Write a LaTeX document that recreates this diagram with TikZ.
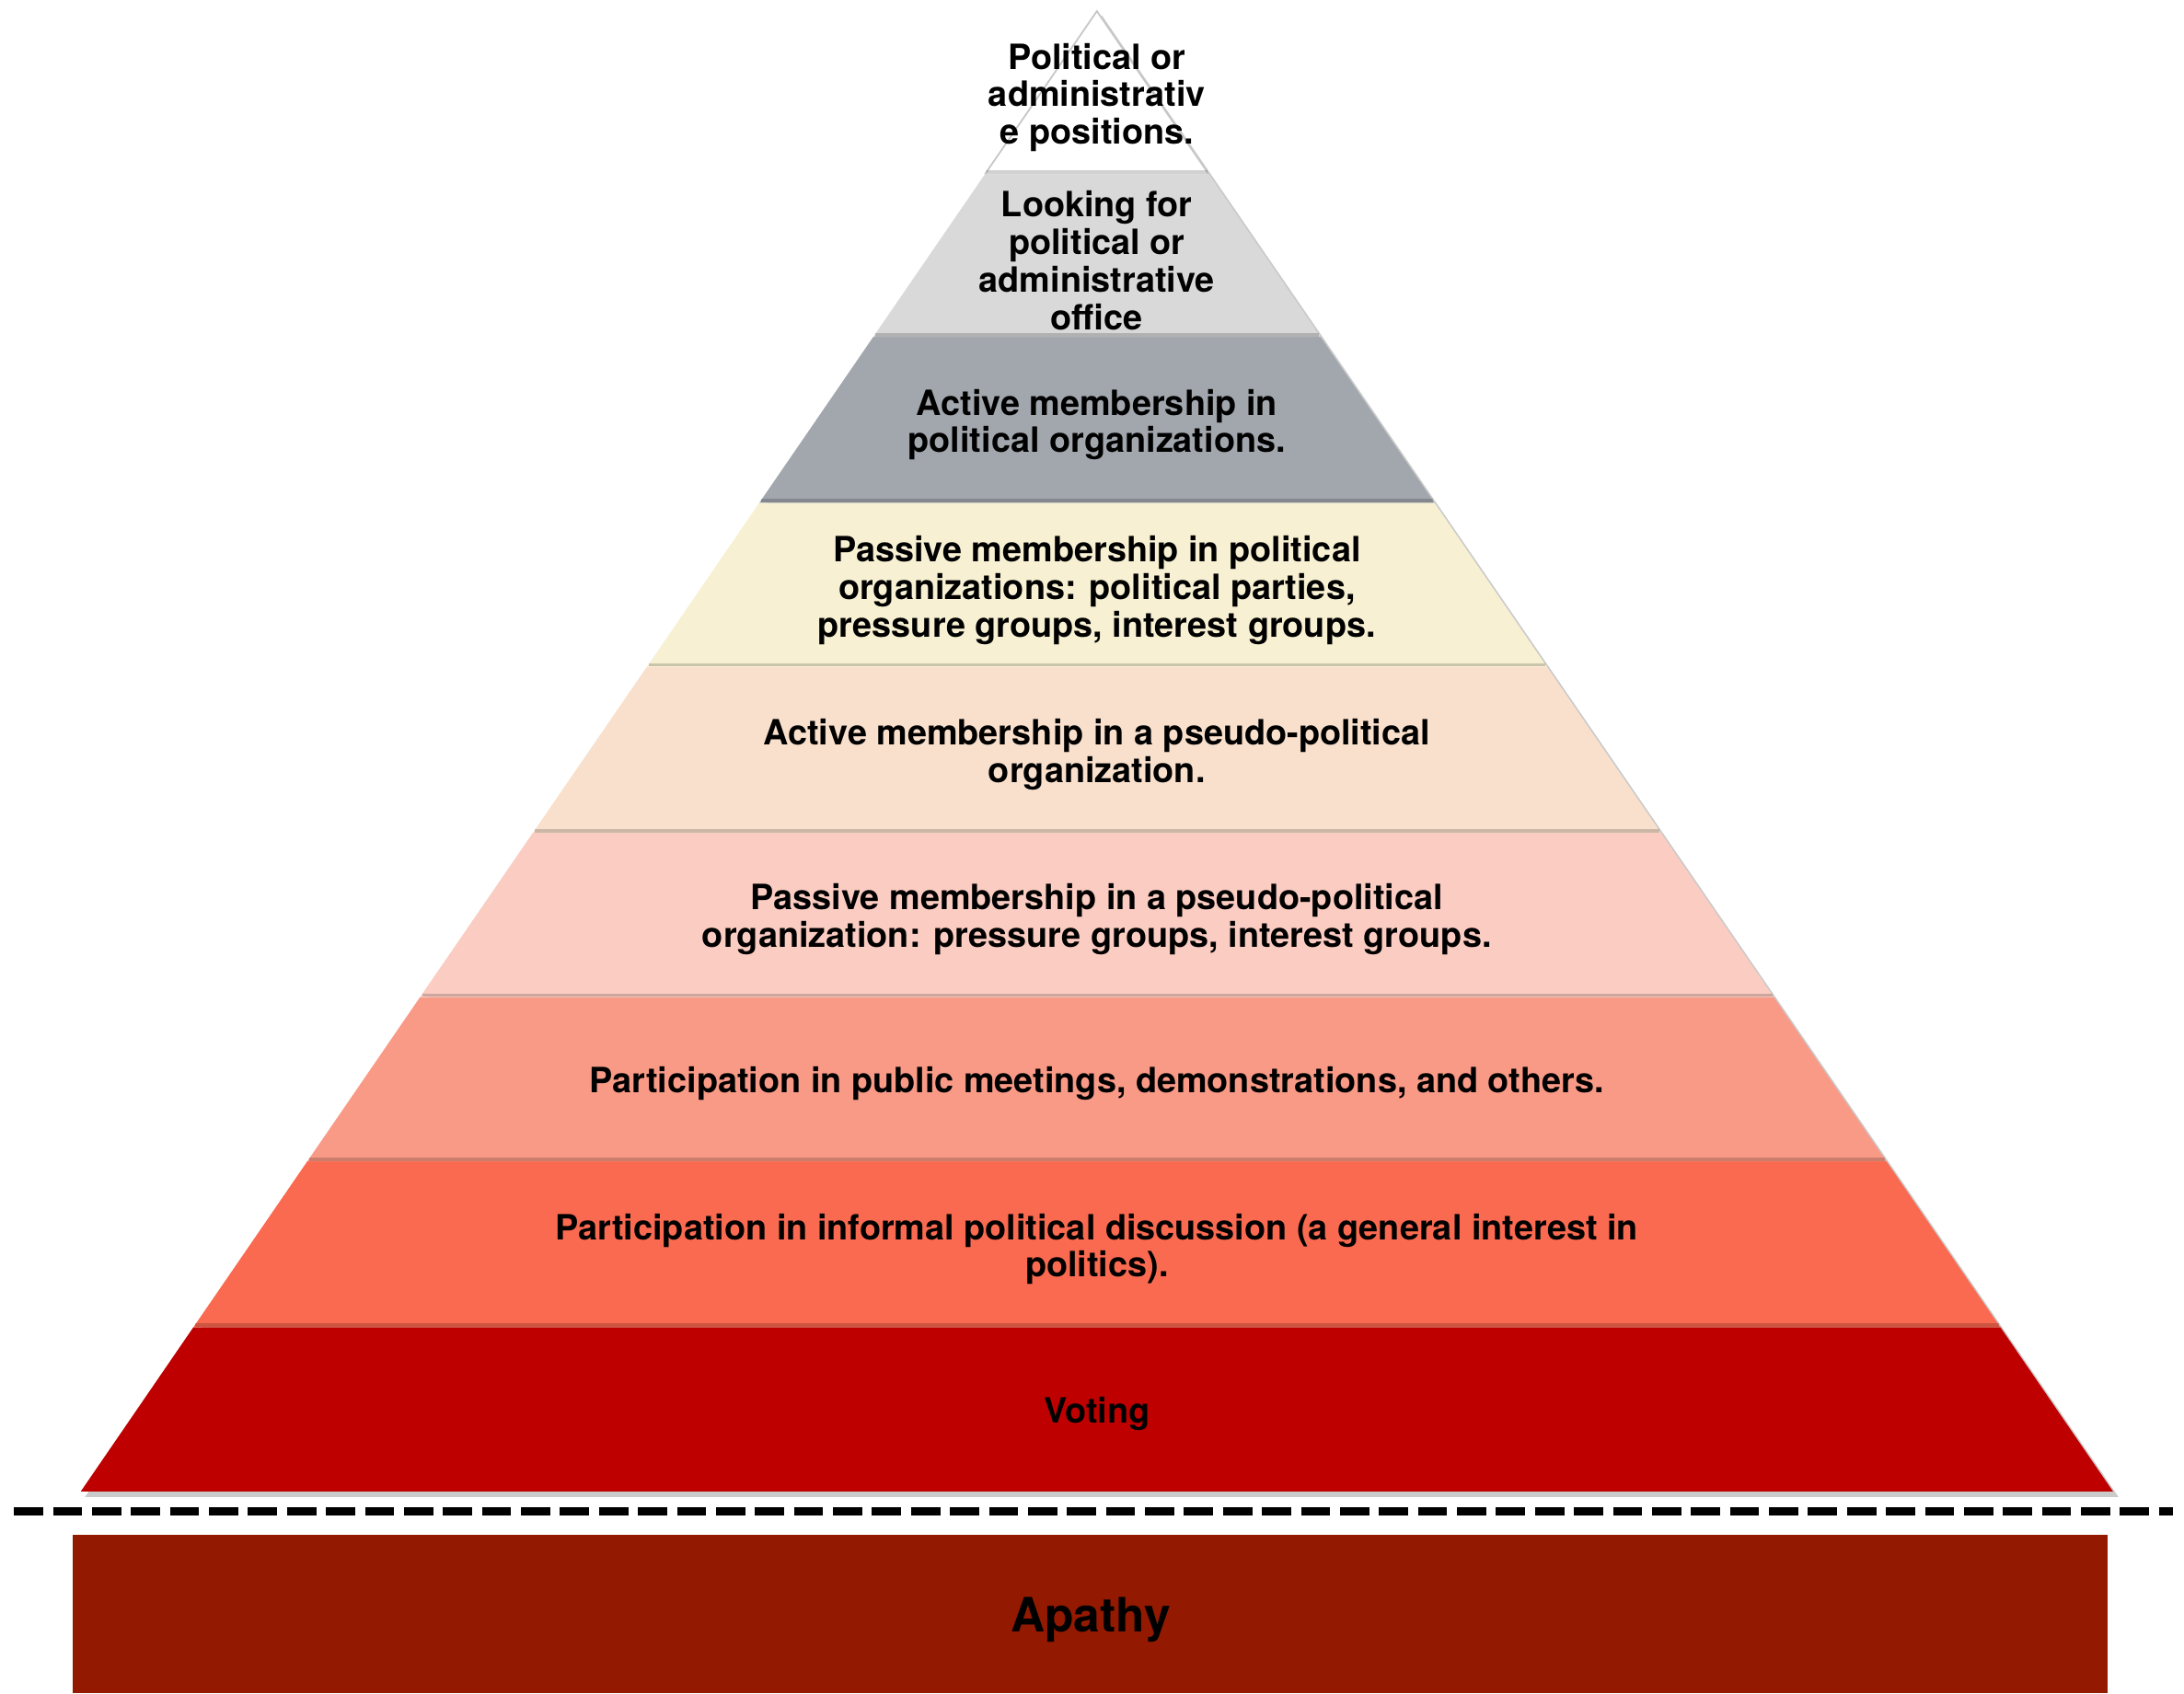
\documentclass[tikz,border=0pt]{standalone}
\usepackage{xcolor}
\usepackage{fontspec}
\setmainfont{TeX Gyre Heros}
\usepackage{tikz}
\usetikzlibrary{positioning}

\definecolor{lvlTop}{HTML}{FFFFFF}
\definecolor{lvlOffice}{HTML}{D9D9D9}
\definecolor{lvlActive}{HTML}{A2A7AE}
\definecolor{lvlPassive}{HTML}{F7F0D3}
\definecolor{lvlPseudoAct}{HTML}{F9E0CC}
\definecolor{lvlPseudoPas}{HTML}{FBCCC2}
\definecolor{lvlMeet}{HTML}{F99A87}
\definecolor{lvlDiscuss}{HTML}{FA6A50}
\definecolor{lvlVote}{HTML}{BE0000}
\definecolor{apathyRed}{HTML}{931A00}

\tikzset{
  lvltext/.style={align=center, inner sep=0pt, font=\fontsize{12.5}{13.5}\selectfont\bfseries},
  bandedge/.style={draw=black, draw opacity=0.18, line width=1.2pt},
}

\begin{document}
\begin{tikzpicture}[x=0.5pt,y=0.5pt,yscale=-1]
\useasboundingbox (0,0) rectangle (1568,1216);

%Shadow of the pyramid
\fill [black!60, opacity=0.35] (791,11) -- (1521,1075) -- (61,1075) -- cycle ;

%Trapezoid: Voting
\fill [lvlVote] (138.9,953) -- (1436.1,953) -- (1517,1071) -- (58,1071) -- cycle ;
%Trapezoid: Informal discussion
\fill [lvlDiscuss] (220.6,834) -- (1354.4,834) -- (1436.1,953) -- (138.9,953) -- cycle ;
%Trapezoid: Public meetings
\fill [lvlMeet] (301.6,716) -- (1273.4,716) -- (1354.4,834) -- (220.6,834) -- cycle ;
%Trapezoid: Passive pseudo-political
\fill [lvlPseudoPas] (382.6,598) -- (1192.4,598) -- (1273.4,716) -- (301.6,716) -- cycle ;
%Trapezoid: Active pseudo-political
\fill [lvlPseudoAct] (464.3,479) -- (1110.7,479) -- (1192.4,598) -- (382.6,598) -- cycle ;
%Trapezoid: Passive political
\fill [lvlPassive] (545.2,361) -- (1029.8,361) -- (1110.7,479) -- (464.3,479) -- cycle ;
%Trapezoid: Active political
\fill [lvlActive] (626.9,242) -- (948.1,242) -- (1029.8,361) -- (545.2,361) -- cycle ;
%Trapezoid: Looking for office
\fill [lvlOffice] (707.2,125) -- (867.8,125) -- (948.1,242) -- (626.9,242) -- cycle ;
%Triangle: Positions
\fill [lvlTop] (787.5,8) -- (867.8,125) -- (707.2,125) -- cycle ;
\draw [black!22, line width=0.6pt] (707.2,125) -- (787.5,8) -- (867.8,125) ;

%Band edges
\draw [bandedge] (708.6,123.5) -- (866.8,123.5) ;
\draw [bandedge] (628.3,240.5) -- (947.1,240.5) ;
\draw [bandedge] (546.6,359.5) -- (1028.8,359.5) ;
\draw [bandedge] (465.7,477.5) -- (1109.7,477.5) ;
\draw [bandedge] (384,596.5) -- (1191.4,596.5) ;
\draw [bandedge] (303,714.5) -- (1272.4,714.5) ;
\draw [bandedge] (222,832.5) -- (1353.4,832.5) ;
\draw [bandedge] (140.3,951.5) -- (1435.1,951.5) ;

%Dashed cut line
\coordinate (cutL) at (10,1085) ;
\coordinate (cutR) at (1560,1085) ;
\draw [line width=3pt, dash pattern=on 10.5pt off 3.5pt] (cutL) -- (cutR) ;

%Flowchart: Process
\fill [apathyRed] (52,1102) -- (1513,1102) -- (1513,1216) -- (52,1216) -- cycle ;

% Text Node
\draw (787.5,70) node (positions) [lvltext] {Political or\\administrativ\\e positions.};
\draw (787.5,187) node (office) [lvltext] {Looking for\\political or\\administrative\\office};
\draw (787.5,305) node (active) [lvltext] {Active membership in\\political organizations.};
\draw (787.5,424) node (passive) [lvltext] {Passive membership in political\\organizations: political parties,\\pressure groups, interest groups.};
\draw (787.5,542) node (pseudoact) [lvltext] {Active membership in a pseudo-political\\organization.};
\draw (787.5,660) node (pseudopas) [lvltext] {Passive membership in a pseudo-political\\organization: pressure groups, interest groups.};
\draw (787.5,778) node (meetings) [lvltext] {Participation in public meetings, demonstrations, and others.};
\draw (787.5,897) node (discussion) [lvltext] {Participation in informal political discussion (a general interest in\\politics).};
\draw (787.5,1015) node (voting) [lvltext] {Voting};
\draw (783,1163) node (apathy) [font=\fontsize{17}{20}\selectfont\bfseries] {Apathy};
\end{tikzpicture}
\end{document}
